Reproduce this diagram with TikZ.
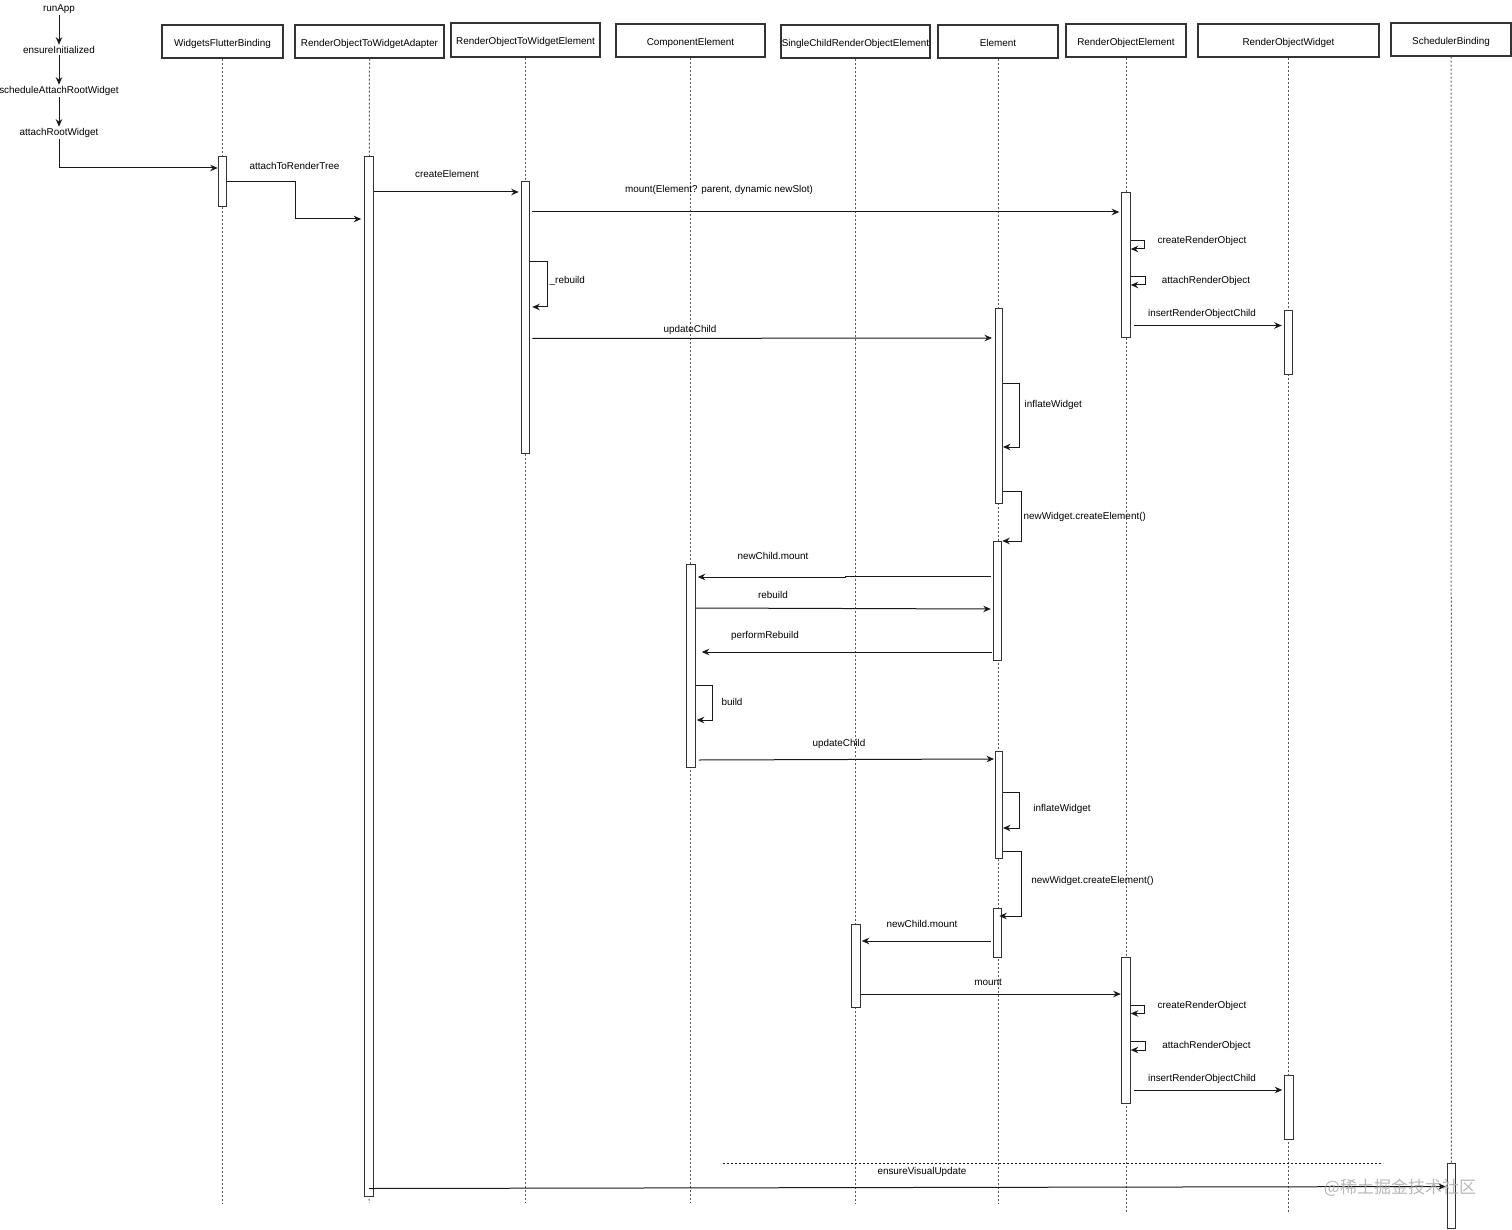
\documentclass[tikz,border=0pt]{standalone}
\usepackage{fontspec}
\setmainfont{Liberation Sans}
\newfontfamily\cjkfont{Noto Sans CJK SC}
\usetikzlibrary{arrows.meta}
\begin{document}
\begin{tikzpicture}[x=1pt,y=-1pt,
  lbl/.style={font=\fontsize{9.9}{12}\selectfont, inner sep=1.5pt, text=black},
  hdr/.style={draw=black!80, line width=1.1pt, fill=white, inner sep=1pt, font=\fontsize{9.9}{12}\selectfont, text=black, text height=9.2pt, text depth=0pt},
  life/.style={draw=black!65, line width=1pt, dash pattern=on 2pt off 2pt},
  bar/.style={draw=black!80, line width=1pt, fill=white, inner sep=0pt, minimum width=8.5pt},
  msg/.style={line width=1pt, draw=black!90, -{Stealth[length=7.5pt,width=6.5pt]}},
  sep/.style={line width=0.9pt, draw=black!90, dash pattern=on 2pt off 2pt}]
\useasboundingbox (0,0) rectangle (1512,1230);

% ---------- headers ----------
\node[hdr, minimum width=121pt, minimum height=33pt] (wfb)  at (222.5,41.5) {WidgetsFlutterBinding};
\node[hdr, minimum width=149pt, minimum height=33pt] (ada)  at (369.5,41.5) {RenderObjectToWidgetAdapter};
\node[hdr, minimum width=149pt, minimum height=34pt] (rote) at (525.5,40) {RenderObjectToWidgetElement};
\node[hdr, minimum width=149pt, minimum height=33pt] (ce)   at (690.5,40.5) {ComponentElement};
\node[hdr, minimum width=149pt, minimum height=33pt, inner sep=0pt] (sc) at (855.5,41.5) {SingleChildRenderObjectElement};
\node[hdr, minimum width=120pt, minimum height=33pt] (el)   at (998,41.5) {Element};
\node[hdr, minimum width=120pt, minimum height=33pt] (roe)  at (1126,40.5) {RenderObjectElement};
\node[hdr, minimum width=181pt, minimum height=33pt] (row)  at (1288.5,40.5) {RenderObjectWidget};
\node[hdr, minimum width=120pt, minimum height=33pt] (sb)   at (1451,39.5) {SchedulerBinding};

% ---------- lifelines ----------
\coordinate (wfbE)  at (222.5,1203);
\coordinate (adaE)  at (369,1203);
\coordinate (roteE) at (525.5,1203);
\coordinate (ceE)   at (690.5,1203);
\coordinate (scE)   at (855.5,1203);
\coordinate (elE)   at (998,1203);
\coordinate (roeE)  at (1126,1213);
\coordinate (rowE)  at (1288.5,1213);
\coordinate (sbE)   at (1451.5,1228);
\draw[life] (wfb.south) -- (wfbE);
\draw[life] (ada.south) -- (adaE);
\draw[life] (rote.south) -- (roteE);
\draw[life] (ce.south) -- (ceE);
\draw[life] (sc.south) -- (scE);
\draw[life] (el.south) -- (elE);
\draw[life] (roe.south) -- (roeE);
\draw[life] (row.south) -- (rowE);
\draw[life] (sb.south) -- (sbE);

% ---------- activation bars ----------
\node[bar, minimum height=50pt]   (wfbA)  at (222.5,182) {};
\node[bar, minimum height=1039pt] (adaA)  at (369,676.5) {};
\node[bar, minimum height=271pt]  (roteA) at (525.5,317.5) {};
\node[bar, minimum height=145pt]  (roeA1) at (1126,265.5) {};
\node[bar, minimum height=64pt]   (rowA1) at (1288.5,342.5) {};
\node[bar, minimum height=194pt, minimum width=7pt] (elA1) at (999,406) {};
\node[bar, minimum height=119pt]  (elA2)  at (997.5,600.5) {};
\node[bar, minimum height=203pt]  (ceA)   at (691,665.5) {};
\node[bar, minimum height=107pt, minimum width=7pt] (elA3) at (999,804.5) {};
\node[bar, minimum height=49pt]   (elA4)  at (997.5,932.5) {};
\node[bar, minimum height=83pt]   (scA)   at (856,965.5) {};
\node[bar, minimum height=146pt]  (roeA2) at (1126,1030) {};
\node[bar, minimum height=64pt]   (rowA2) at (1289,1107) {};
\node[bar, minimum height=65pt]   (sbA)   at (1451.5,1195.5) {};

% ---------- left call chain ----------
\node[lbl] (runApp)   at (59,9)   {runApp};
\node[lbl] (ensure)   at (59,50)  {ensureInitialized};
\node[lbl] (sched)    at (59,91)  {scheduleAttachRootWidget};
\node[lbl] (attachRW) at (59,133) {attachRootWidget};
\draw[msg] (runApp.south) -- (ensure.north);
\draw[msg] (ensure.south) -- (sched.north);
\draw[msg] (sched.south) -- (attachRW.north);
\draw[msg] (attachRW.south) |- (wfbA.west |- 0,168);

% ---------- messages ----------
\coordinate (atrBend) at (295.5,200);
\draw[msg] (wfbA.east |- 0,182) -| (atrBend) |- ([xshift=-3pt]adaA.west |- 0,219);
\node[lbl] (l1) at (294.5,166) {attachToRenderTree};

\draw[msg] (adaA.east |- 0,192) -- ([xshift=-2pt]roteA.west |- 0,192);
\node[lbl] (l2) at (447,174) {createElement};

\draw[msg] ([xshift=2pt]roteA.east |- 0,212) -- ([xshift=-2pt]roeA1.west |- 0,212);
\node[lbl] (l3) at (719,190) {mount(Element? parent, dynamic newSlot)};

\draw[msg] (roteA.east |- 0,262) -- (547,262) -- (547,307) -- ([xshift=2pt]roteA.east |- 0,307);
\node[lbl, anchor=west] (l4) at (548,281) {\_rebuild};

\draw[msg] ([xshift=2pt]roteA.east |- 0,338.5) -- ([xshift=-3pt]elA1.west |- 0,338);
\node[lbl] (l5) at (690,330) {updateChild};

\draw[msg] (roeA1.east |- 0,241) -- (1144,241) -- (1144,249) -- (roeA1.east |- 0,249);
\node[lbl] (l6) at (1202,241) {createRenderObject};
\draw[msg] (roeA1.east |- 0,276.5) -- (1145,276.5) -- (1145,285) -- (roeA1.east |- 0,285);
\node[lbl] (l7) at (1206,281) {attachRenderObject};
\draw[msg] ([xshift=3pt]roeA1.east |- 0,325.5) -- ([xshift=-2pt]rowA1.west |- 0,325.5);
\node[lbl] (l8) at (1202,314) {insertRenderObjectChild};

\draw[msg] (elA1.east |- 0,383) -- (1019,383) -- (1019,447) -- (elA1.east |- 0,447);
\node[lbl, anchor=west] (l9) at (1023,405) {inflateWidget};
\draw[msg] (elA1.east |- 0,491) -- (1021,491) -- (1021,541) -- (elA2.east |- 0,541);
\node[lbl, anchor=west] (l10) at (1022,516.5) {newWidget.createElement()};

\draw[msg] ([xshift=-2pt]elA2.west |- 0,576) -- (845,576) -- (845,577) -- ([xshift=2pt]ceA.east |- 0,577);
\node[lbl] (l11) at (773,556) {newChild.mount};
\draw[msg] (ceA.east |- 0,608) -- ([xshift=-2pt]elA2.west |- 0,609);
\node[lbl] (l12) at (773,595) {rebuild};
\draw[msg] ([xshift=-1pt]elA2.west |- 0,652) -- ([xshift=6pt]ceA.east |- 0,652);
\node[lbl] (l13) at (765,636) {performRebuild};
\draw[msg] (ceA.east |- 0,685) -- (712,685) -- (712,720) -- ([xshift=1pt]ceA.east |- 0,720);
\node[lbl] (l14) at (732,702) {build};
\draw[msg] ([xshift=3pt]ceA.east |- 0,760) -- ([xshift=-1pt]elA3.west |- 0,759);
\node[lbl] (l15) at (839,744) {updateChild};

\draw[msg] (elA3.east |- 0,792) -- (1019,792) -- (1019,828) -- (elA3.east |- 0,828);
\node[lbl] (l16) at (1062,809) {inflateWidget};
\draw[msg] (elA3.east |- 0,851) -- (1021,851) -- (1021,916) -- ([xshift=-3pt]elA4.east |- 0,916);
\node[lbl] (l17) at (1092.5,881) {newWidget.createElement()};

\draw[msg] ([xshift=-2pt]elA4.west |- 0,941) -- ([xshift=1pt]scA.east |- 0,941);
\node[lbl] (l18) at (922,924) {newChild.mount};
\draw[msg] (scA.east |- 0,994) -- ([xshift=-0.5pt]roeA2.west |- 0,994);
\node[lbl] (l19) at (988,982) {mount};

\draw[msg] (roeA2.east |- 0,1005) -- (1144,1005) -- (1144,1013.5) -- (roeA2.east |- 0,1013.5);
\node[lbl] (l20) at (1202,1006) {createRenderObject};
\draw[msg] (roeA2.east |- 0,1041) -- (1145,1041) -- (1145,1050) -- (roeA2.east |- 0,1050);
\node[lbl] (l21) at (1206.5,1046) {attachRenderObject};
\draw[msg] ([xshift=3pt]roeA2.east |- 0,1090) -- ([xshift=-2pt]rowA2.west |- 0,1090);
\node[lbl] (l22) at (1202,1079) {insertRenderObjectChild};

% ---------- bottom ----------
\coordinate (sepL) at (723,1163);
\coordinate (sepR) at (1383,1163);
\draw[sep] (sepL) -- (sepR);
\node[lbl] (l23) at (922,1172) {ensureVisualUpdate};
\draw[msg] (adaA.center |- 0,1188.5) -- ([xshift=-1pt]sbA.west |- 0,1186.5);

\node[font=\cjkfont\fontsize{17}{20}\selectfont, text=black!35, text opacity=0.8, inner sep=0pt] (wm) at (1400,1188) {@稀土掘金技术社区};
\end{tikzpicture}
\end{document}
